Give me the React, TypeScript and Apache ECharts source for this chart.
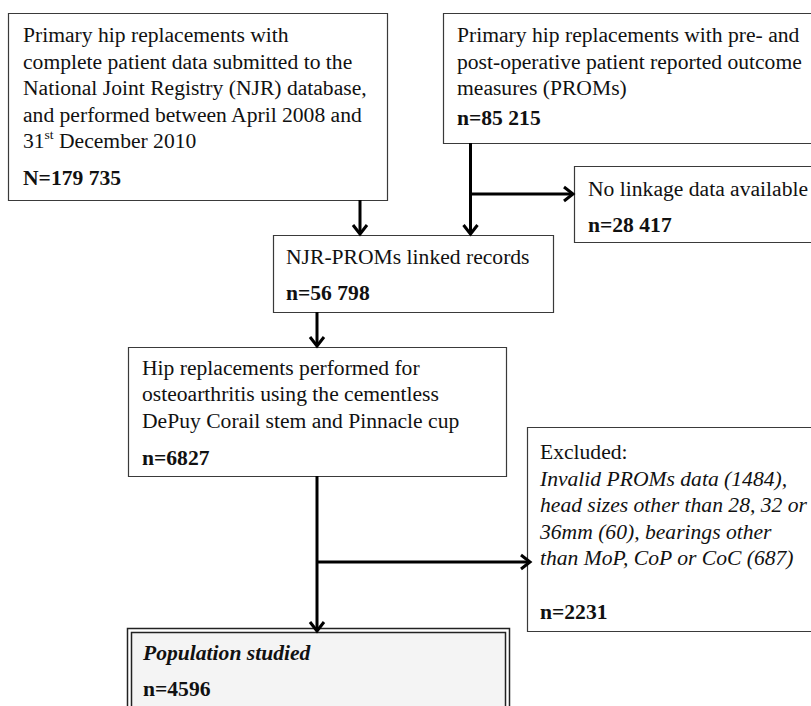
import React, { useEffect, useRef } from "react";
import * as echarts from "echarts";

// ---- Data (texts and counts of the flow diagram) ----
const registryLines = [
  "Primary hip replacements with",
  "complete patient data submitted to the",
  "National Joint Registry (NJR) database,",
  "and performed between April 2008 and",
  "31{sup|st} December 2010",
];
const registryCount = 179735;

const promsLines = [
  "Primary hip replacements with pre- and",
  "post-operative patient reported outcome",
  "measures (PROMs)",
];
const promsCount = 85215;

const noLinkLines = ["No linkage data available"];
const noLinkCount = 28417;

const linkedLines = ["NJR-PROMs linked records"];
const linkedCount = 56798;

const cohortLines = [
  "Hip replacements performed for",
  "osteoarthritis using the cementless",
  "DePuy Corail stem and Pinnacle cup",
];
const cohortCount = 6827;

const excludedHeader = "Excluded:";
const excludedLines = [
  "Invalid PROMs data (1484),",
  "head sizes other than 28, 32 or",
  "36mm (60), bearings other",
  "than MoP, CoP or CoC (687)",
];
const excludedCount = 2231;

const studiedTitle = "Population studied";
const studiedCount = 4596;

// ---- helpers ----
const fmt = (n: number) =>
  n >= 10000 ? String(n).replace(/\B(?=(\d{3})+(?!\d))/g, " ") : String(n);

const FAMILY = "'Liberation Serif', serif";
const FS = 21.6;
const LH = 26.5;

const fontOf = (size: number, bold?: boolean, italic?: boolean) =>
  `${italic ? "italic" : "normal"} ${bold ? "bold" : "normal"} ${size}px ${FAMILY}`;

export default function App() {
  const ref = useRef<HTMLDivElement>(null);

  useEffect(() => {
    if (!ref.current) return;
    const chart = echarts.init(ref.current, undefined, { renderer: "svg" });

    const els: any[] = [];

    const box = (x: number, y: number, w: number, h: number) => {
      els.push({
        type: "rect",
        shape: { x: x + 0.5, y: y + 0.5, width: w, height: h },
        style: { fill: "#fff", stroke: "#3a3a3a", lineWidth: 1.2 },
      });
    };

    const text = (
      lines: string[],
      x: number,
      cy: number,
      opts: { bold?: boolean; italic?: boolean } = {}
    ) => {
      els.push({
        type: "text",
        x,
        y: cy - LH / 2,
        style: {
          text: lines.join("\n"),
          fill: "#111",
          font: fontOf(FS, opts.bold, opts.italic),
          lineHeight: LH,
          align: "left",
          verticalAlign: "top",
          rich: {
            sup: {
              font: fontOf(13.5),
              lineHeight: 15,
              verticalAlign: "top",
              fill: "#111",
            },
          },
        },
      });
    };

    const arrowDown = (x: number, y1: number, y2: number) => {
      els.push({
        type: "line",
        shape: { x1: x, y1, x2: x, y2: y2 - 1 },
        style: { stroke: "#000", lineWidth: 3 },
      });
      els.push({
        type: "polyline",
        shape: {
          points: [
            [x - 7, y2 - 10],
            [x, y2 - 1],
            [x + 7, y2 - 10],
          ],
        },
        style: { stroke: "#000", lineWidth: 3, fill: null, lineJoin: "miter" },
      });
    };

    const arrowRight = (y: number, x1: number, x2: number) => {
      els.push({
        type: "line",
        shape: { x1, y1: y, x2: x2 - 1, y2: y },
        style: { stroke: "#000", lineWidth: 3 },
      });
      els.push({
        type: "polyline",
        shape: {
          points: [
            [x2 - 10, y - 7],
            [x2 - 1, y],
            [x2 - 10, y + 7],
          ],
        },
        style: { stroke: "#000", lineWidth: 3, fill: null, lineJoin: "miter" },
      });
    };

    // boxes
    box(8, 13, 379, 187);
    text(registryLines, 23, 35);
    text(["N=" + fmt(registryCount)], 23, 177.5, { bold: true });

    box(443, 13, 400, 130);
    text(promsLines, 457, 35);
    text(["n=" + fmt(promsCount)], 457, 117.5, { bold: true });

    box(574, 166, 300, 76);
    text(noLinkLines, 588, 188.5);
    text(["n=" + fmt(noLinkCount)], 588, 225, { bold: true });

    box(273, 235, 280, 77);
    text(linkedLines, 286, 256.5);
    text(["n=" + fmt(linkedCount)], 286, 292.5, { bold: true });

    box(128, 347, 378, 129);
    text(cohortLines, 142, 367.5);
    text(["n=" + fmt(cohortCount)], 142, 457.5, { bold: true });

    box(527, 427, 320, 204);
    text([excludedHeader], 540, 452);
    text(excludedLines, 540, 478.5, { italic: true });
    text(["n=" + fmt(excludedCount)], 540, 611.5, { bold: true });

    // population studied: double border
    els.push({
      type: "rect",
      shape: { x: 127.5, y: 628.5, width: 382, height: 120 },
      style: { fill: "#fff", stroke: "#222", lineWidth: 1.5 },
    });
    els.push({
      type: "rect",
      shape: { x: 131.5, y: 632.5, width: 374, height: 110 },
      style: { fill: "#f4f4f4", stroke: "#222", lineWidth: 1.5 },
    });
    text([studiedTitle], 143, 652.5, { bold: true, italic: true });
    text(["n=" + fmt(studiedCount)], 143, 688.5, { bold: true });

    // arrows
    arrowDown(360, 200, 235);
    arrowDown(470.5, 143, 235);
    arrowRight(194, 470.5, 574);
    arrowDown(317, 312, 347);
    arrowDown(317, 476, 632);
    arrowRight(562, 317, 531);

    chart.setOption({
      animation: false,
      backgroundColor: "#fff",
      graphic: { elements: els },
    });

    return () => chart.dispose();
  }, []);

  return (
    <div
      ref={ref}
      style={{ position: "fixed", left: 0, top: 0, width: 811, height: 706, background: "#fff" }}
    />
  );
}
